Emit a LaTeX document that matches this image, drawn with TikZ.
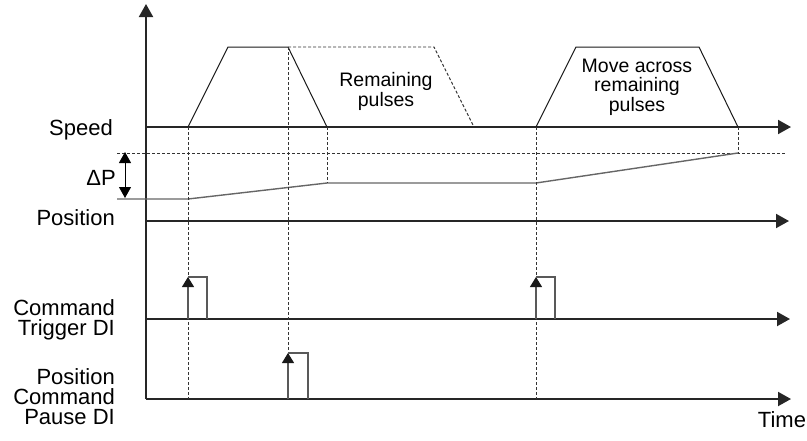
\documentclass[tikz,border=0pt]{standalone}
\usepackage{fontspec}
\setmainfont{Liberation Sans}
\usetikzlibrary{positioning, arrows.meta}

\begin{document}
\begin{tikzpicture}[
    x=1pt, y=-1pt,
    axis line/.style={-{Triangle[length=13pt, width=14pt]}, line width=2pt, draw=black!85},
    speed line/.style={line width=1pt, draw=black!90},
    position line/.style={line width=1.4pt, draw=black!60},
    guide line/.style={dash pattern=on 3pt off 2pt, line width=0.9pt, draw=black!80},
    pulse line/.style={line width=1.1pt, draw=black!65},
    pulse arrow/.style={-{Triangle[length=10pt, width=12pt, color=black!90]}, line width=1.1pt, draw=black!65},
    delta arrow/.style={{Triangle[length=11pt, width=12pt]}-{Triangle[length=11pt, width=12pt]}, line width=1pt},
    axis label/.style={font=\fontsize{22}{20}\selectfont, align=right, anchor=base east, inner sep=0pt},
    note label/.style={font=\fontsize{19.5}{19.5}\selectfont, align=center, anchor=base, inner sep=0pt}
]
    \useasboundingbox (0,0) rectangle (807,440);

    % Axes
    \coordinate (origin) at (146,399);
    \coordinate (top) at (146,4);
    \coordinate (speed start) at (146,127);
    \coordinate (speed end) at (791,127);
    \coordinate (position start) at (146,221);
    \coordinate (position end) at (789,221);
    \coordinate (trigger start) at (146,319);
    \coordinate (trigger end) at (790,319);
    \coordinate (pause end) at (791,399);

    \draw[axis line] (origin) -- (top);
    \draw[axis line] (speed start) -- (speed end);
    \draw[axis line] (position start) -- (position end);
    \draw[axis line] (trigger start) -- (trigger end);
    \draw[axis line] (origin) -- (pause end);

    % Labels (base = last line)
    \node[axis label] (speed) at (113,135) {Speed};
    \node[axis label] (position) at (115,225) {Position};
    \node[axis label] (trigger) at (115,335) {Command\\Trigger DI};
    \node[axis label] (pause) at (115,424) {Position\\Command\\Pause DI};
    \node[axis label, anchor=base] (time) at (782,427) {Time};
    \node[axis label] (delta) at (116,185) {ΔP};
    \node[note label] (remaining) at (386,106) {Remaining\\pulses};
    \node[note label] (move) at (637,111) {Move across\\remaining\\pulses};

    % Speed profiles
    \draw[speed line] (188,127) -- (228,47) -- (288,47) -- (327,127);
    \draw[guide line] (288,47) -- (434,47) -- (474,127);
    \draw[speed line] (536,127) -- (576,47) -- (699,47) -- (738,127);

    % Position
    \draw[guide line] (117,153) -- (785,153);
    \draw[position line] (117,199) -- (188,199) -- (327,183) -- (536,183) -- (738,153);
    \coordinate (delta top) at (125,152);
    \coordinate (delta bottom) at (125,198);
    \draw[delta arrow] (delta top) -- (delta bottom);

    % Guides
    \draw[guide line] (188,127) -- (188,399);
    \draw[guide line] (288,47) -- (288,353);
    \draw[guide line] (327,127) -- (327,183);
    \draw[guide line] (536,127) -- (536,399);
    \draw[guide line] (738,127) -- (738,153);

    % Pulses
    \draw[pulse arrow] (188,319) -- (188,277);
    \draw[pulse line] (188,277) -- (207,277) -- (207,319);
    \draw[pulse arrow] (536,319) -- (536,277);
    \draw[pulse line] (536,277) -- (555,277) -- (555,319);
    \draw[pulse arrow] (288,399) -- (288,353);
    \draw[pulse line] (288,353) -- (308,353) -- (308,399);

\end{tikzpicture}
\end{document}
